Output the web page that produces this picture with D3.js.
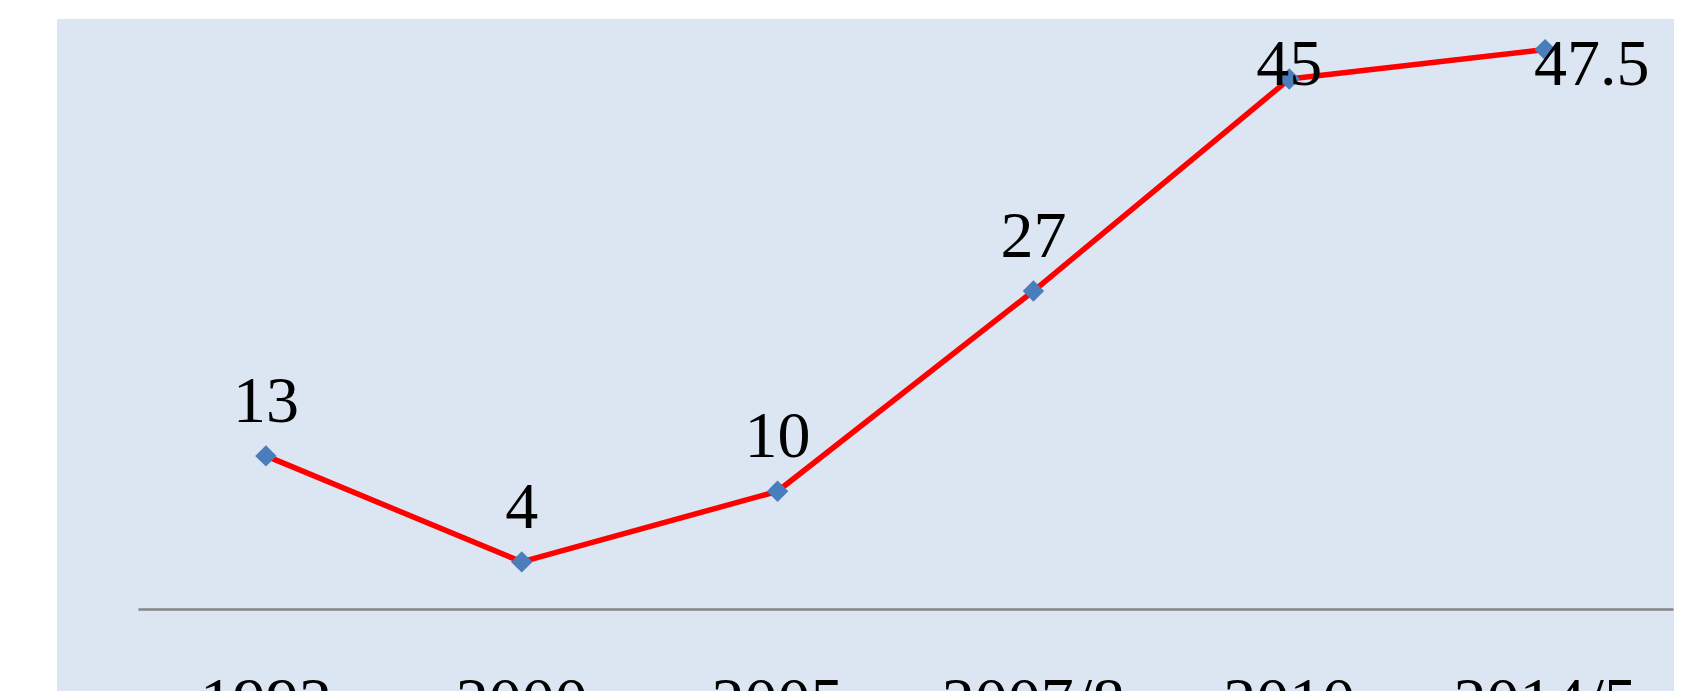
<!DOCTYPE html>
<html><head>
<script src="https://d3js.org/d3.v7.min.js"></script>
<style>
body { margin: 0; background: white; }
.lbl { font-family: "Liberation Serif", "Times New Roman", serif; font-size: 66px; fill: black; }
</style>
</head><body>
<svg id="chart"></svg>
<script>
// values
var years = ["1992", "2000", "2005", "2007/8", "2010", "2014/5"];
var values = [13, 4, 10, 27, 45, 47.5];
var labelText = ["13", "4", "10", "27", "45", "47.5"];
var labelPos = ["above", "above", "above", "above", "above", "right"];

var W = 1687, H = 691;
var panel = {x: 57, y: 19, w: 1617, h: 700};
var plot = {left: 138, right: 1673, top: 39, bottom: 609};

var svg = d3.select("#chart").attr("width", W).attr("height", H);

svg.append("rect")
    .attr("x", panel.x).attr("y", panel.y)
    .attr("width", panel.w).attr("height", panel.h)
    .attr("fill", "#dce6f2");

var x = d3.scaleBand()
    .domain(years)
    .range([plot.left, plot.right]);

var y = d3.scaleLinear()
    .domain([0, 48.4])
    .range([plot.bottom, plot.top]);

// category axis: line only, labels below (mostly cut off by the window)
var xAxis = svg.append("g")
    .attr("transform", "translate(0," + plot.bottom + ")")
    .call(d3.axisBottom(x).tickSize(0).tickPadding(67));
xAxis.select(".domain").attr("stroke", "#868686").attr("stroke-width", 2.5);
xAxis.selectAll("text")
    .attr("class", "lbl")
    .attr("font-family", null).attr("font-size", null)
    .attr("fill", "black");

var cx = function(d, i) { return x(years[i]) + x.bandwidth() / 2; };

var line = d3.line()
    .x(cx)
    .y(function(d) { return y(d); });

svg.append("path")
    .datum(values)
    .attr("d", line)
    .attr("fill", "none")
    .attr("stroke", "#ff0000")
    .attr("stroke-width", 5.5)
    .attr("stroke-linejoin", "round");

svg.selectAll(".mk")
    .data(values)
    .enter().append("path")
    .attr("class", "mk")
    .attr("d", d3.symbol().type(d3.symbolSquare).size(230))
    .attr("transform", function(d, i) { return "translate(" + cx(d, i) + "," + y(d) + ") rotate(45)"; })
    .attr("fill", "#4a7ebb");

svg.selectAll(".val")
    .data(values)
    .enter().append("text")
    .attr("class", "lbl")
    .attr("x", function(d, i) { return labelPos[i] == "right" ? cx(d, i) - 11 : cx(d, i); })
    .attr("y", function(d) { return Math.max(y(d) - 34, 85); })
    .attr("text-anchor", function(d, i) { return labelPos[i] == "right" ? "start" : "middle"; })
    .text(function(d, i) { return labelText[i]; });
</script>
</body></html>
